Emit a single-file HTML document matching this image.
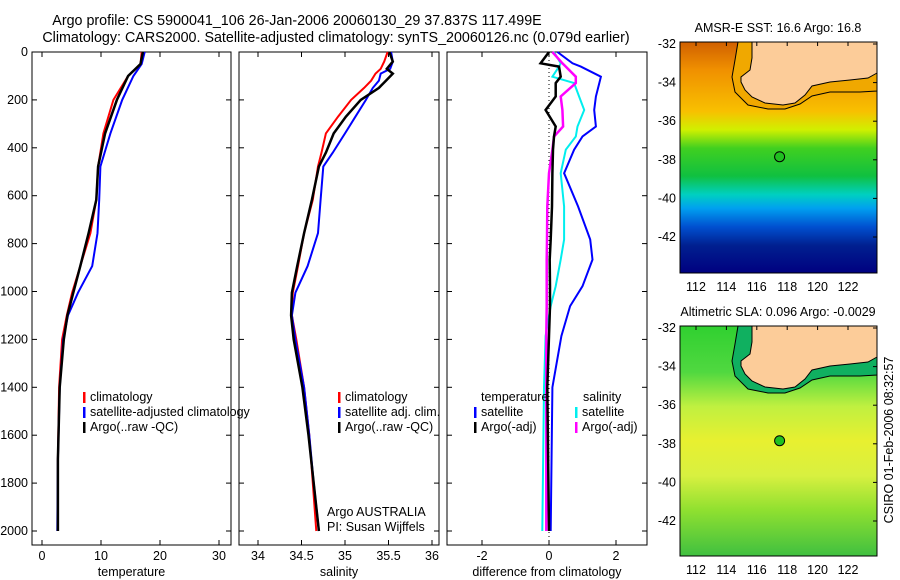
<!DOCTYPE html>
<html><head><meta charset="utf-8"><style>
body{margin:0;background:#fff;}
svg{display:block;font-family:"Liberation Sans",sans-serif;}
text{font-size:12.5px;fill:#000;}
text.ttl{font-size:14.3px;}
</style></head><body>
<svg id="fig" width="900" height="580" viewBox="0 0 900 580">
<text class="ttl" x="297" y="25" text-anchor="middle">Argo profile: CS 5900041_106 26-Jan-2006 20060130_29 37.837S 117.499E</text>
<text class="ttl" x="336" y="42" text-anchor="middle">Climatology: CARS2000. Satellite-adjusted climatology: synTS_20060126.nc (0.079d earlier)</text>
<g id="plots"></g>
<g id="maps"></g>
<text transform="translate(893,440) rotate(-90)" text-anchor="middle">CSIRO 01-Feb-2006 08:32:57</text>
</svg>
<script>
const NS="http://www.w3.org/2000/svg";
// depth axis data (dbar)
const depthTicks=[0,200,400,600,800,1000,1200,1400,1600,1800,2000];
// temperature panel
const tDepth=[0,50,100,200,340,478,617,756,894,1005,1100,1200,1400,1700,2000];
const tClim=[16.9,16.7,14.6,12.1,10.4,9.5,9.2,8.2,6.5,5.1,4.2,3.4,2.9,2.7,2.7];
const tSat=[17.4,16.9,15.5,13.6,11.6,9.9,9.7,9.4,8.5,6.1,4.4,3.6,3.0,2.7,2.6];
const tArgo=[17.1,16.7,14.6,12.7,10.7,9.5,9.2,7.9,6.5,5.3,4.3,3.7,3.0,2.7,2.7];
const tTicks=[0,10,20,30];
// salinity panel
const sDepth=[0,40,70,90,120,150,200,270,340,420,478,617,756,894,1005,1100,1200,1400,1600,1800,2000];
const sClim=[35.49,35.45,35.41,35.35,35.30,35.22,35.07,34.92,34.78,34.73,34.69,34.63,34.53,34.46,34.40,34.39,34.44,34.53,34.59,34.63,34.67];
const sSat=[35.53,35.55,35.52,35.41,35.39,35.32,35.24,35.12,35.00,34.86,34.75,34.72,34.69,34.57,34.43,34.39,34.43,34.53,34.59,34.64,34.70];
const sArgo=[35.51,35.55,35.48,35.55,35.47,35.39,35.18,35.01,34.87,34.78,34.70,34.62,34.53,34.45,34.39,34.38,34.41,34.51,34.58,34.64,34.70];
const sTicks=[34,34.5,35,35.5,36];
// difference panel
const dDepth=[0,47,61,103,130,186,242,311,353,408,506,645,783,867,978,1061,1186,1400,2000];
const dTSat=[0.25,0.7,0.95,1.55,1.5,1.4,1.35,1.4,1.0,0.75,0.45,0.87,1.23,1.3,1.0,0.63,0.37,0.1,0.05];
const dTArgo=[0,-0.25,0.3,0.35,0.2,0.2,-0.1,0.2,0.15,0.12,0.1,0.09,0.05,0.02,0.03,0.03,0.0,-0.05,0.0];
const dSSat=[0.15,0.35,0.3,0.1,0.75,0.9,1.05,0.85,0.8,0.5,0.35,0.45,0.45,0.35,0.2,0.05,-0.1,-0.15,-0.2];
const dSArgo=[0.1,0.4,0.5,0.8,0.8,0.35,0.4,0.42,0.15,0.1,0.0,-0.05,-0.06,-0.07,-0.07,-0.07,-0.08,-0.08,-0.08];
const dTicks=[-2,0,2];
const yDepth=d=>52+d*0.2395;

function el(tag,attrs,parent){const e=document.createElementNS(NS,tag);for(const k in attrs)e.setAttribute(k,attrs[k]);parent.appendChild(e);return e;}
const plots=document.getElementById('plots');

function panel(name,x0,x1,xs,ticks,title,showY){
  const g=el('g',{},plots);
  
  
  const r=el('rect',{x:x0,y:52,width:x1-x0,height:493,fill:'none',stroke:'#000','stroke-width':1},g);
  
  
  ticks.forEach(t=>{const x=xs(t);
    el('line',{x1:x,x2:x,y1:52,y2:57,stroke:'#000'},g);
    el('line',{x1:x,x2:x,y1:545,y2:540,stroke:'#000'},g);
    const tx=el('text',{x:x,y:560,'text-anchor':'middle'},g);tx.textContent=t;
    
    
  });
  depthTicks.forEach(d=>{const y=yDepth(d);
    el('line',{x1:x0,x2:x0+5,y1:y,y2:y,stroke:'#000'},g);
    el('line',{x1:x1,x2:x1-5,y1:y,y2:y,stroke:'#000'},g);
    if(showY){const tx=el('text',{x:x0-4,y:y+4,'text-anchor':'end'},g);tx.textContent=d;
      
      }
  });
  const tt=el('text',{x:(x0+x1)/2,y:576,'text-anchor':'middle'},g);tt.textContent=title;
  
  
  return g;
}
function line(g,name,xs,vals,depths,color,w){
  const pts=vals.map((v,i)=>xs(v).toFixed(1)+','+yDepth(depths[i]).toFixed(1)).join(' ');
  const p=el('polyline',{points:pts,fill:'none',stroke:color,'stroke-width':w},g);
  
  
}
function legend(g,x,y,color,label){
  el('rect',{x:x,y:y-9,width:2.5,height:11,fill:color},g);
  const t=el('text',{x:x+7,y:y},g);t.textContent=label;
  
  
}
// temperature
const xT=v=>42+v*5.9;
const g1=panel('temperature-panel',32,231,xT,tTicks,'temperature',true);
line(g1,'temp-climatology-line',xT,tClim,tDepth,'#f00',2);
line(g1,'temp-satellite-line',xT,tSat,tDepth,'#00f',2);
line(g1,'temp-argo-line',xT,tArgo,tDepth,'#000',2.5);
legend(g1,83,401,'#f00','climatology');
legend(g1,83,416,'#00f','satellite-adjusted climatology');
legend(g1,83,431,'#000','Argo(..raw -QC)');
// salinity
const xS=v=>258+(v-34)*87;
const g2=panel('salinity-panel',239,439,xS,sTicks,'salinity',false);
line(g2,'sal-climatology-line',xS,sClim,sDepth,'#f00',2);
line(g2,'sal-satellite-line',xS,sSat,sDepth,'#00f',2);
line(g2,'sal-argo-line',xS,sArgo,sDepth,'#000',2.5);
legend(g2,338,401,'#f00','climatology');
legend(g2,338,416,'#00f','satellite adj. clim.');
legend(g2,338,431,'#000','Argo(..raw -QC)');
const a1=el('text',{x:327,y:516},g2);a1.textContent='Argo AUSTRALIA';


const a2=el('text',{x:327,y:531},g2);a2.textContent='PI: Susan Wijffels';


// difference
const xD=v=>549+v*33.5;
const g3=panel('difference-panel',447,647,xD,dTicks,'difference from climatology',false);
el('line',{x1:xD(0),x2:xD(0),y1:52,y2:545,stroke:'#000','stroke-dasharray':'1,3'},g3);
line(g3,'diff-temp-satellite-line',xD,dTSat,dDepth,'#00f',2);
line(g3,'diff-sal-satellite-line',xD,dSSat,dDepth,'#0ee',2);
line(g3,'diff-sal-argo-line',xD,dSArgo,dDepth,'#f0f',2.5);
line(g3,'diff-temp-argo-line',xD,dTArgo,dDepth,'#000',2.5);
const lt=el('text',{x:481,y:401},g3);lt.textContent='temperature';


const ls=el('text',{x:583,y:401},g3);ls.textContent='salinity';


legend(g3,474,416,'#00f','satellite');
legend(g3,474,431,'#000','Argo(-adj)');
legend(g3,575,416,'#0ee','satellite');
legend(g3,575,431,'#f0f','Argo(-adj)');

// maps
const maps=document.getElementById('maps');
const lonTicks=[112,114,116,118,120,122];
const latTicks=[-32,-34,-36,-38,-40,-42];
const lonX=l=>696+(l-112)*15.2;
function map(name,top,h,title,stops,shelf,dotFill){
  // top = pixel of box top; lat -32 sits 2px below
  const g=el('g',{},maps);
  
  
  const id=name+'-grad';
  const defs=el('defs',{},g);
  const lg=el('linearGradient',{id:id,x1:0,y1:0,x2:0,y2:1},defs);
  stops.forEach(s=>el('stop',{offset:s[0],'stop-color':s[1]},lg));
  el('rect',{x:680,y:top,width:197,height:h,fill:'url(#'+id+')'},g);
  const ky=top-42;
  const P=pts=>pts.map(p=>p[0]+','+(p[1]+ky)).join(' ');
  el('polygon',{points:P([[738,42],[735,60],[732,77],[735,92],[748,105],[768,109],[785,109],[800,104],[812,96],[830,92],[860,92],[877,91],[877,42]]),fill:shelf,stroke:'#000','stroke-width':1},g);
  const land=el('polygon',{points:P([[752,42],[752,58],[750,70],[741,77],[741,82],[745,90],[752,97],[765,103],[783,105],[795,103],[805,95],[812,86],[830,82],[850,80],[868,78],[877,73],[877,42]]),fill:'#fccc99',stroke:'#000','stroke-width':1},g);
  
  
  const c=el('circle',{cx:lonX(117.5),cy:top+2+(37.84-32)*19.3,r:5,fill:dotFill,stroke:'#000'},g);
  
  
  el('rect',{x:680,y:top,width:197,height:h,fill:'none',stroke:'#000'},g);
  lonTicks.forEach(l=>{const x=lonX(l);
    el('line',{x1:x,x2:x,y1:top,y2:top+4,stroke:'#000'},g);
    const t=el('text',{x:x,y:top+h+18,'text-anchor':'middle'},g);t.textContent=l;
    
    });
  latTicks.forEach(l=>{const y=top+2+(-32-l)*19.3;
    el('line',{x1:877,x2:873,y1:y,y2:y,stroke:'#000'},g);
    const t=el('text',{x:676,y:y+4,'text-anchor':'end'},g);t.textContent=l;
    
    });
  const tt=el('text',{x:778,y:top-10,'text-anchor':'middle'},g);tt.textContent=title;
  
  
}
map('sst-map',42,231,'AMSR-E SST: 16.6 Argo: 16.8',
 [[0,'#d06000'],[0.12,'#f09000'],[0.3,'#f8c000'],[0.38,'#d0f000'],[0.46,'#40d020'],[0.58,'#10c040'],[0.66,'#00d0c0'],[0.72,'#00a0f0'],[0.8,'#0050d0'],[0.88,'#002090'],[1,'#000080']],
 '#f0a800','#20c020');
map('sla-map',326,230,'Altimetric SLA: 0.096 Argo: -0.0029',
 [[0,'#30d030'],[0.2,'#50d840'],[0.35,'#c0f040'],[0.5,'#e8f030'],[0.65,'#d8f040'],[0.8,'#90e030'],[1,'#40c040']],
 '#10b060','#20c020');
</script>
</body></html>
